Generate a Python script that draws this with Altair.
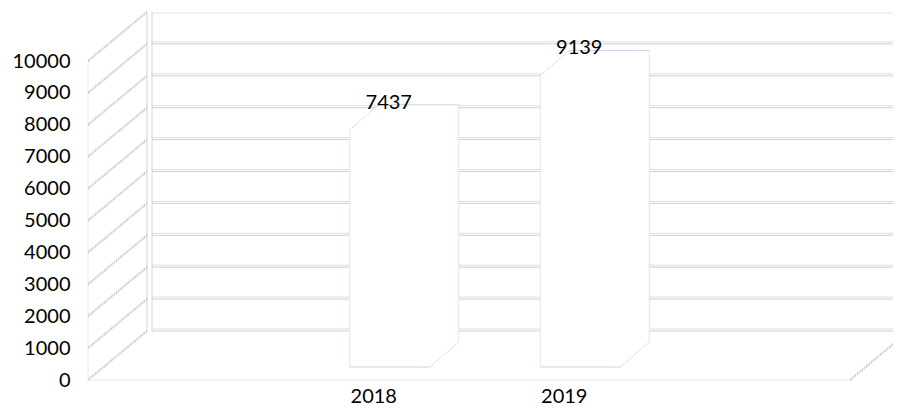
import altair as alt
import pandas as pd

years = ["2018", "2019"]
values = [7437, 9139]
y_ticks = [0, 1000, 2000, 3000, 4000, 5000, 6000, 7000, 8000, 9000, 10000]

W, H = 762, 319
DX, DY = 59, -49          # depth of the 3D box (wall / floor)
FX, FY = 16, -13          # bar front face offset
BX, BY = 45, -38          # bar back face offset
BAR = 0.42
FONT = "Lato"
INK = "#000000"

bars = pd.DataFrame({"year": years, "value": values})
ticks = pd.DataFrame({"v": y_ticks})
grid_ticks = ticks[ticks["v"] < max(y_ticks)]
top_tick = ticks[ticks["v"] == max(y_ticks)]
zero_tick = ticks[ticks["v"] == 0]

xscale = alt.Scale(domain=years, paddingInner=0, paddingOuter=1)
yscale = alt.Scale(domain=[0, max(y_ticks)], nice=False, zero=True)
xaxis = alt.Axis(labelAngle=0)
yaxis = alt.Axis(values=y_ticks, tickCount=len(y_ticks), format="d", labelOverlap=False)


def XC(**kw):
    return alt.X("year:N", scale=xscale, title=None, axis=xaxis, **kw)


def YV(field):
    return alt.Y(field, scale=yscale, title=None, axis=yaxis)


layers = []

# back wall gridlines (double lines)
for off, col in [(DY - 2, "#dedede"), (DY, "#d0d0d0")]:
    layers.append(
        alt.Chart(grid_ticks).mark_rule(color=col, strokeWidth=1, xOffset=DX + 5, x2Offset=DX + 5,
                                        yOffset=off, y2Offset=off)
        .encode(x=alt.value(0), x2=alt.value("width"), y=YV("v:Q"))
    )
layers.append(
    alt.Chart(top_tick).mark_rule(color="#e4e4e4", strokeWidth=1, xOffset=DX + 5, x2Offset=DX + 5,
                                  yOffset=DY + 1, y2Offset=DY + 1)
    .encode(x=alt.value(0), x2=alt.value("width"), y=YV("v:Q"))
)
# back wall left edges
for xo in [DX, DX + 5]:
    layers.append(
        alt.Chart(top_tick).mark_rule(color="#d6d6d6", strokeWidth=1, xOffset=xo, x2Offset=xo,
                                      yOffset=DY, y2Offset=DY)
        .encode(x=alt.value(0), y=YV("v:Q"), y2=alt.datum(0))
    )
# front left faint vertical
layers.append(
    alt.Chart(top_tick).mark_rule(color="#ececec", strokeWidth=1)
    .encode(x=alt.value(0), y=YV("v:Q"), y2=alt.datum(0))
)
# side wall diagonals (hatched)
for off, col in [(-1, "#d4d4d4"), (0, "#bdbdbd"), (1, "#d4d4d4")]:
    layers.append(
        alt.Chart(ticks).mark_rule(color=col, strokeWidth=1, strokeDash=[2, 1],
                                   yOffset=off, y2Offset=DY + off, x2Offset=DX)
        .encode(x=alt.value(0), x2=alt.value(0), y=YV("v:Q"), y2="v:Q")
    )
# floor front edge
layers.append(
    alt.Chart(zero_tick).mark_rule(color="#e6e6e6", strokeWidth=1)
    .encode(x=alt.value(0), x2=alt.value("width"), y=YV("v:Q"))
)
# floor right diagonal
for off, col in [(-1, "#d4d4d4"), (0, "#bdbdbd"), (1, "#d4d4d4")]:
    layers.append(
        alt.Chart(zero_tick).mark_rule(color=col, strokeWidth=1, strokeDash=[2, 1],
                                       yOffset=off, y2Offset=DY + off, x2Offset=DX)
        .encode(x=alt.value("width"), x2=alt.value("width"), y=YV("v:Q"), y2="v:Q")
    )

# bar bodies: white swept boxes
N = 30
for i in range(N + 1):
    t = i / N
    xo = FX + (BX - FX) * t
    yo = FY + (BY - FY) * t
    layers.append(
        alt.Chart(bars).mark_bar(width=alt.RelativeBandSize(BAR), color="white", strokeWidth=0,
                                 xOffset=xo, x2Offset=xo, yOffset=yo, y2Offset=yo)
        .encode(x=XC(), y=YV("value:Q"))
    )

lo, hi = 0.5 - BAR / 2, 0.5 + BAR / 2
EDGE = "#c9d6e6"
EDGE_L = "#dde6f0"
# front face left edge
layers.append(
    alt.Chart(bars).mark_rule(color=EDGE_L, strokeWidth=1, xOffset=FX, x2Offset=FX, yOffset=FY, y2Offset=FY)
    .encode(x=XC(bandPosition=lo), y=YV("value:Q"), y2=alt.datum(0))
)
# front face bottom edge
layers.append(
    alt.Chart(bars).mark_rule(color=EDGE, strokeWidth=1, xOffset=FX, x2Offset=FX, yOffset=FY, y2Offset=FY)
    .encode(x=XC(bandPosition=lo), x2=alt.X2("year", bandPosition=hi), y=alt.datum(0))
)
# bottom-right diagonal
layers.append(
    alt.Chart(bars).mark_rule(color=EDGE, strokeWidth=1, strokeDash=[2, 1], xOffset=FX, x2Offset=BX,
                              yOffset=FY, y2Offset=BY)
    .encode(x=XC(bandPosition=hi), x2=alt.X2("year", bandPosition=hi), y=alt.datum(0), y2=alt.datum(0))
)
# back face right edge
layers.append(
    alt.Chart(bars).mark_rule(color=EDGE_L, strokeWidth=1, xOffset=BX, x2Offset=BX, yOffset=BY, y2Offset=BY)
    .encode(x=XC(bandPosition=hi), y=YV("value:Q"), y2=alt.datum(0))
)
# back face top edge
layers.append(
    alt.Chart(bars).mark_rule(color=EDGE, strokeWidth=1, xOffset=BX, x2Offset=BX, yOffset=BY, y2Offset=BY)
    .encode(x=XC(bandPosition=lo), x2=alt.X2("year", bandPosition=hi), y=YV("value:Q"))
)
# top-left diagonal
layers.append(
    alt.Chart(bars).mark_rule(color=EDGE, strokeWidth=1, strokeDash=[2, 1], xOffset=FX, x2Offset=BX,
                              yOffset=FY, y2Offset=BY)
    .encode(x=XC(bandPosition=lo), x2=alt.X2("year", bandPosition=lo), y=YV("value:Q"), y2="value:Q")
)

# value labels
layers.append(
    alt.Chart(bars).mark_text(font=FONT, fontSize=20, color=INK, dx=15, dy=-40, baseline="middle")
    .encode(x=XC(), y=YV("value:Q"), text="value:Q")
)

chart = alt.layer(*layers).properties(
    width=W, height=H,
    background="white",
    autosize=alt.AutoSizeParams(type="none"),
    padding={"left": 80, "top": 53, "right": 43, "bottom": 28},
).configure_view(stroke=None).configure_axis(
    domain=False, ticks=False, tickSize=0, grid=False, labelOverlap=False,
    labelFont=FONT, labelFontSize=20, labelColor=INK,
).configure_axisX(labelPadding=6).configure_axisY(labelPadding=18)

chart.save("out.html", embed_options={"renderer": "svg", "actions": False})
